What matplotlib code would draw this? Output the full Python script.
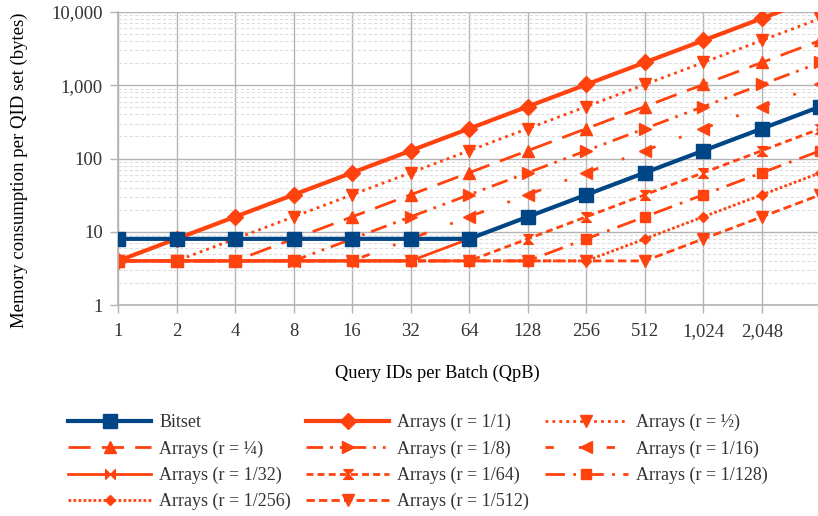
from matplotlib import rcParams, pyplot as plt
from matplotlib.ticker import FixedLocator, LogLocator, NullFormatter
import numpy as np

rcParams.update({'font.family': 'Liberation Serif', 'font.size': 11,
                 'text.color': '#333333', 'xtick.color': '#b3b3b3', 'ytick.color': '#b3b3b3',
                 'xtick.labelcolor': '#333333', 'ytick.labelcolor': '#333333'})

blue = '#004586'
orange = '#ff420e'

qpb = [1, 2, 4, 8, 16, 32, 64, 128, 256, 512, 1024, 2048, 4096]
x_ticks = [1, 2, 4, 8, 16, 32, 64, 128, 256, 512, 1024, 2048]
x_labels = ['1', '2', '4', '8', '16', '32', '64', '128', '256', '512', '1,024', '2,048']
y_ticks = [1, 10, 100, 1000, 10000]
y_labels = ['1', '10', '100', '1,000', '10,000']

bitset = [8, 8, 8, 8, 8, 8, 8, 16, 32, 64, 128, 256, 512]
arr_1 = [4, 8, 16, 32, 64, 128, 256, 512, 1024, 2048, 4096, 8192, 16384]
arr_2 = [4, 4, 8, 16, 32, 64, 128, 256, 512, 1024, 2048, 4096, 8192]
arr_4 = [4, 4, 4, 8, 16, 32, 64, 128, 256, 512, 1024, 2048, 4096]
arr_8 = [4, 4, 4, 4, 8, 16, 32, 64, 128, 256, 512, 1024, 2048]
arr_16 = [4, 4, 4, 4, 4, 8, 16, 32, 64, 128, 256, 512, 1024]
arr_32 = [4, 4, 4, 4, 4, 4, 8, 16, 32, 64, 128, 256, 512]
arr_64 = [4, 4, 4, 4, 4, 4, 4, 8, 16, 32, 64, 128, 256]
arr_128 = [4, 4, 4, 4, 4, 4, 4, 4, 8, 16, 32, 64, 128]
arr_256 = [4, 4, 4, 4, 4, 4, 4, 4, 4, 8, 16, 32, 64]
arr_512 = [4, 4, 4, 4, 4, 4, 4, 4, 4, 4, 8, 16, 32]

bowtie = [(-1, -1), (-1, 1), (1, -1), (1, 1), (-1, -1)]
hourglass = [(-1, 1), (1, 1), (-1, -1), (1, -1), (-1, 1)]

fig = plt.figure(figsize=(8.18, 5.16), dpi=100)
ax = fig.add_axes([118 / 818, 1 - 305 / 516, (820.5 - 118) / 818, 293 / 516])

# (label, data, color, linestyle, marker, markersize, linewidth)
series = [
    ('Arrays (r = 1/1)', arr_1, orange, '-', 'D', 8, 3),
    ('Arrays (r = ½)', arr_2, orange, (0, (1, 1.5)), 'v', 8, 2),
    ('Arrays (r = ¼)', arr_4, orange, (0, (8, 4)), '^', 8, 2),
    ('Arrays (r = 1/8)', arr_8, orange, (0, (6, 2.5, 1, 2.5, 1, 2.5)), '>', 8, 2),
    ('Arrays (r = 1/16)', arr_16, orange, (0, (3, 9, 1, 9)), '<', 8, 2),
    ('Arrays (r = 1/32)', arr_32, orange, '-', bowtie, 7, 2),
    ('Arrays (r = 1/64)', arr_64, orange, (0, (2.5, 1.5)), hourglass, 7, 2),
    ('Arrays (r = 1/128)', arr_128, orange, (0, (7, 3, 1, 3)), 's', 7, 2),
    ('Arrays (r = 1/256)', arr_256, orange, (0, (1, 0.8)), 'D', 5.5, 2),
    ('Arrays (r = 1/512)', arr_512, orange, (0, (3, 1.5)), 'v', 8, 2),
]

handles = {}
h, = ax.plot(qpb, bitset, color=blue, lw=3, marker='s', ms=10, zorder=5, label='Bitset')
handles['Bitset'] = h
for lab, vals, col, ls, mk, ms, lw in series:
    h, = ax.plot(qpb, vals, color=col, ls=ls, lw=lw, marker=mk, ms=ms, label=lab)
    handles[lab] = h

ax.set_xscale('log', base=2)
ax.set_yscale('log')
ax.set_xlim(1, 4096)
ax.set_ylim(1, 10000)
ax.set_xticks(x_ticks)
ax.set_xticklabels(x_labels)
ax.xaxis.set_minor_locator(FixedLocator([]))
ax.set_yticks(y_ticks)
ax.set_yticklabels(y_labels)
ax.yaxis.set_minor_locator(LogLocator(base=10, subs=np.arange(2, 10)))
ax.yaxis.set_minor_formatter(NullFormatter())
ax.tick_params(axis='y', which='minor', length=0)
ax.tick_params(axis='both', which='major', length=6, width=1, labelsize=13.5)
ax.tick_params(axis='x', pad=7)
ax.tick_params(axis='y', pad=5)

ax.grid(True, which='major', color='#b3b3b3', lw=1)
ax.grid(True, which='minor', axis='y', color='#dddddd', lw=0.8, ls=(0, (3, 2)))
ax.set_axisbelow(True)
for s in ['top', 'right']:
    ax.spines[s].set_visible(False)
for s in ['left', 'bottom']:
    ax.spines[s].set_color('#b3b3b3')
    ax.spines[s].set_linewidth(1.2)

ax.set_ylabel('Memory consumption per QID set (bytes)', fontsize=13.5)
ax.yaxis.set_label_coords(-0.128, 0.46)
ax.set_xlabel('Query IDs per Batch (QpB)', fontsize=13.2)
ax.xaxis.set_label_coords(0.454, -0.205)

order = ['Bitset', 'Arrays (r = 1/1)', 'Arrays (r = ½)',
         'Arrays (r = ¼)', 'Arrays (r = 1/8)', 'Arrays (r = 1/16)',
         'Arrays (r = 1/32)', 'Arrays (r = 1/64)', 'Arrays (r = 1/128)',
         'Arrays (r = 1/256)', 'Arrays (r = 1/512)']
# matplotlib fills legend columns first, so reorder to read row by row
ncol = 3
nrow = 4
cols = [[order[r * ncol + c] for r in range(nrow) if r * ncol + c < len(order)] for c in range(ncol)]
flat = [lab for col in cols for lab in col]
leg = fig.legend([handles[l] for l in flat], flat, ncol=ncol, loc='upper left',
                 bbox_to_anchor=(68 / 818, 1 - 414 / 516), frameon=False, fontsize=13,
                 handlelength=4.6, handletextpad=0.45, columnspacing=0.85, labelspacing=0.5,
                 borderaxespad=0, borderpad=0)

plt.savefig('out.png', dpi=100)
